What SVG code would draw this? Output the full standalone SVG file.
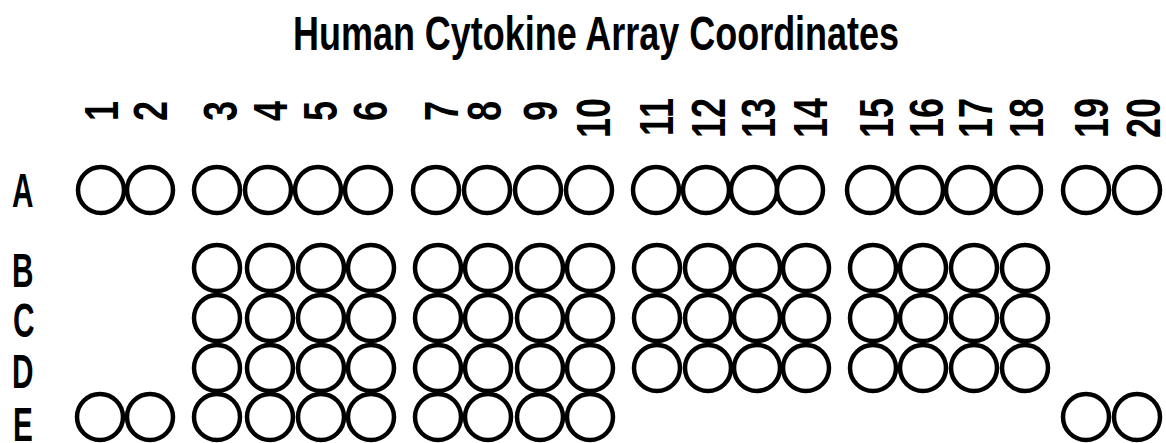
<svg xmlns="http://www.w3.org/2000/svg" width="1166" height="443" viewBox="0 0 1166 443">
<style>
.spot{fill:#fff;stroke:#000;stroke-width:4.5}
.t{font-family:"Liberation Sans",Arial,sans-serif;font-weight:bold;fill:#000}
.num{font-size:48px;text-anchor:end}
.row{font-size:48px}
</style>
<rect width="1166" height="443" fill="#fff"/>
<text id="title" class="t" x="293" y="50" font-size="48" textLength="606" lengthAdjust="spacingAndGlyphs">Human Cytokine Array Coordinates</text>
<g id="col-labels">
<text class="t num" transform="translate(118,101) rotate(-90) scale(0.75,1)">1</text>
<text class="t num" transform="translate(167,101) rotate(-90) scale(0.75,1)">2</text>
<text class="t num" transform="translate(237,101) rotate(-90) scale(0.75,1)">3</text>
<text class="t num" transform="translate(287,101) rotate(-90) scale(0.75,1)">4</text>
<text class="t num" transform="translate(337,101) rotate(-90) scale(0.75,1)">5</text>
<text class="t num" transform="translate(387,101) rotate(-90) scale(0.75,1)">6</text>
<text class="t num" transform="translate(458,101) rotate(-90) scale(0.75,1)">7</text>
<text class="t num" transform="translate(501,101) rotate(-90) scale(0.75,1)">8</text>
<text class="t num" transform="translate(557,101) rotate(-90) scale(0.75,1)">9</text>
<text class="t num" transform="translate(610,98) rotate(-90) scale(0.75,1)">10</text>
<text class="t num" transform="translate(673,98) rotate(-90) scale(0.75,1)">11</text>
<text class="t num" transform="translate(725,98) rotate(-90) scale(0.75,1)">12</text>
<text class="t num" transform="translate(775,98) rotate(-90) scale(0.75,1)">13</text>
<text class="t num" transform="translate(827,98) rotate(-90) scale(0.75,1)">14</text>
<text class="t num" transform="translate(893,98) rotate(-90) scale(0.75,1)">15</text>
<text class="t num" transform="translate(943,98) rotate(-90) scale(0.75,1)">16</text>
<text class="t num" transform="translate(992,98) rotate(-90) scale(0.75,1)">17</text>
<text class="t num" transform="translate(1043,98) rotate(-90) scale(0.75,1)">18</text>
<text class="t num" transform="translate(1108,98) rotate(-90) scale(0.75,1)">19</text>
<text class="t num" transform="translate(1160,98) rotate(-90) scale(0.75,1)">20</text>
</g>
<g id="row-labels">
<text class="t row" transform="translate(12,207) scale(0.62,1)">A</text>
<text class="t row" transform="translate(12,287) scale(0.62,1)">B</text>
<text class="t row" transform="translate(13,337) scale(0.62,1)">C</text>
<text class="t row" transform="translate(12,388) scale(0.62,1)">D</text>
<text class="t row" transform="translate(13,441) scale(0.62,1)">E</text>
</g>
<g id="row-A">
<circle id="A1" class="spot" cx="101" cy="190" r="23"/>
<circle id="A2" class="spot" cx="150" cy="190" r="23"/>
<circle id="A3" class="spot" cx="217" cy="190" r="23"/>
<circle id="A4" class="spot" cx="268" cy="190" r="23"/>
<circle id="A5" class="spot" cx="318" cy="190" r="23"/>
<circle id="A6" class="spot" cx="368" cy="190" r="23"/>
<circle id="A7" class="spot" cx="436" cy="190" r="23"/>
<circle id="A8" class="spot" cx="487" cy="190" r="23"/>
<circle id="A9" class="spot" cx="538" cy="190" r="23"/>
<circle id="A10" class="spot" cx="589" cy="190" r="23"/>
<circle id="A11" class="spot" cx="656" cy="190" r="23"/>
<circle id="A12" class="spot" cx="706" cy="190" r="23"/>
<circle id="A13" class="spot" cx="754" cy="190" r="23"/>
<circle id="A14" class="spot" cx="800" cy="190" r="23"/>
<circle id="A15" class="spot" cx="870" cy="190" r="23"/>
<circle id="A16" class="spot" cx="920" cy="190" r="23"/>
<circle id="A17" class="spot" cx="969" cy="190" r="23"/>
<circle id="A18" class="spot" cx="1018" cy="190" r="23"/>
<circle id="A19" class="spot" cx="1086" cy="190" r="23"/>
<circle id="A20" class="spot" cx="1137" cy="190" r="23"/>
</g>
<g id="row-B">
<circle id="B3" class="spot" cx="217" cy="268" r="23"/>
<circle id="B4" class="spot" cx="270" cy="268" r="23"/>
<circle id="B5" class="spot" cx="321" cy="268" r="23"/>
<circle id="B6" class="spot" cx="371" cy="268" r="23"/>
<circle id="B7" class="spot" cx="438" cy="268" r="23"/>
<circle id="B8" class="spot" cx="488" cy="268" r="23"/>
<circle id="B9" class="spot" cx="540" cy="268" r="23"/>
<circle id="B10" class="spot" cx="590" cy="268" r="23"/>
<circle id="B11" class="spot" cx="657" cy="268" r="23"/>
<circle id="B12" class="spot" cx="708" cy="268" r="23"/>
<circle id="B13" class="spot" cx="757" cy="268" r="23"/>
<circle id="B14" class="spot" cx="806" cy="268" r="23"/>
<circle id="B15" class="spot" cx="873" cy="268" r="23"/>
<circle id="B16" class="spot" cx="923" cy="268" r="23"/>
<circle id="B17" class="spot" cx="974" cy="268" r="23"/>
<circle id="B18" class="spot" cx="1025" cy="268" r="23"/>
</g>
<g id="row-C">
<circle id="C3" class="spot" cx="217" cy="318" r="23"/>
<circle id="C4" class="spot" cx="270" cy="318" r="23"/>
<circle id="C5" class="spot" cx="321" cy="318" r="23"/>
<circle id="C6" class="spot" cx="371" cy="318" r="23"/>
<circle id="C7" class="spot" cx="438" cy="318" r="23"/>
<circle id="C8" class="spot" cx="488" cy="318" r="23"/>
<circle id="C9" class="spot" cx="540" cy="318" r="23"/>
<circle id="C10" class="spot" cx="590" cy="318" r="23"/>
<circle id="C11" class="spot" cx="657" cy="318" r="23"/>
<circle id="C12" class="spot" cx="708" cy="318" r="23"/>
<circle id="C13" class="spot" cx="757" cy="318" r="23"/>
<circle id="C14" class="spot" cx="806" cy="318" r="23"/>
<circle id="C15" class="spot" cx="873" cy="318" r="23"/>
<circle id="C16" class="spot" cx="923" cy="318" r="23"/>
<circle id="C17" class="spot" cx="974" cy="318" r="23"/>
<circle id="C18" class="spot" cx="1025" cy="318" r="23"/>
</g>
<g id="row-D">
<circle id="D3" class="spot" cx="217" cy="368" r="23"/>
<circle id="D4" class="spot" cx="270" cy="368" r="23"/>
<circle id="D5" class="spot" cx="321" cy="368" r="23"/>
<circle id="D6" class="spot" cx="371" cy="368" r="23"/>
<circle id="D7" class="spot" cx="438" cy="368" r="23"/>
<circle id="D8" class="spot" cx="488" cy="368" r="23"/>
<circle id="D9" class="spot" cx="540" cy="368" r="23"/>
<circle id="D10" class="spot" cx="590" cy="368" r="23"/>
<circle id="D11" class="spot" cx="657" cy="368" r="23"/>
<circle id="D12" class="spot" cx="708" cy="368" r="23"/>
<circle id="D13" class="spot" cx="757" cy="368" r="23"/>
<circle id="D14" class="spot" cx="806" cy="368" r="23"/>
<circle id="D15" class="spot" cx="873" cy="368" r="23"/>
<circle id="D16" class="spot" cx="923" cy="368" r="23"/>
<circle id="D17" class="spot" cx="974" cy="368" r="23"/>
<circle id="D18" class="spot" cx="1025" cy="368" r="23"/>
</g>
<g id="row-E">
<circle id="E1" class="spot" cx="100" cy="417" r="23"/>
<circle id="E2" class="spot" cx="150" cy="417" r="23"/>
<circle id="E3" class="spot" cx="217" cy="417" r="23"/>
<circle id="E4" class="spot" cx="270" cy="417" r="23"/>
<circle id="E5" class="spot" cx="321" cy="417" r="23"/>
<circle id="E6" class="spot" cx="371" cy="417" r="23"/>
<circle id="E7" class="spot" cx="438" cy="417" r="23"/>
<circle id="E8" class="spot" cx="488" cy="417" r="23"/>
<circle id="E9" class="spot" cx="540" cy="417" r="23"/>
<circle id="E10" class="spot" cx="590" cy="417" r="23"/>
<circle id="E19" class="spot" cx="1086" cy="417" r="23"/>
<circle id="E20" class="spot" cx="1137" cy="417" r="23"/>
</g>
<g id="connectors"/>
</svg>
